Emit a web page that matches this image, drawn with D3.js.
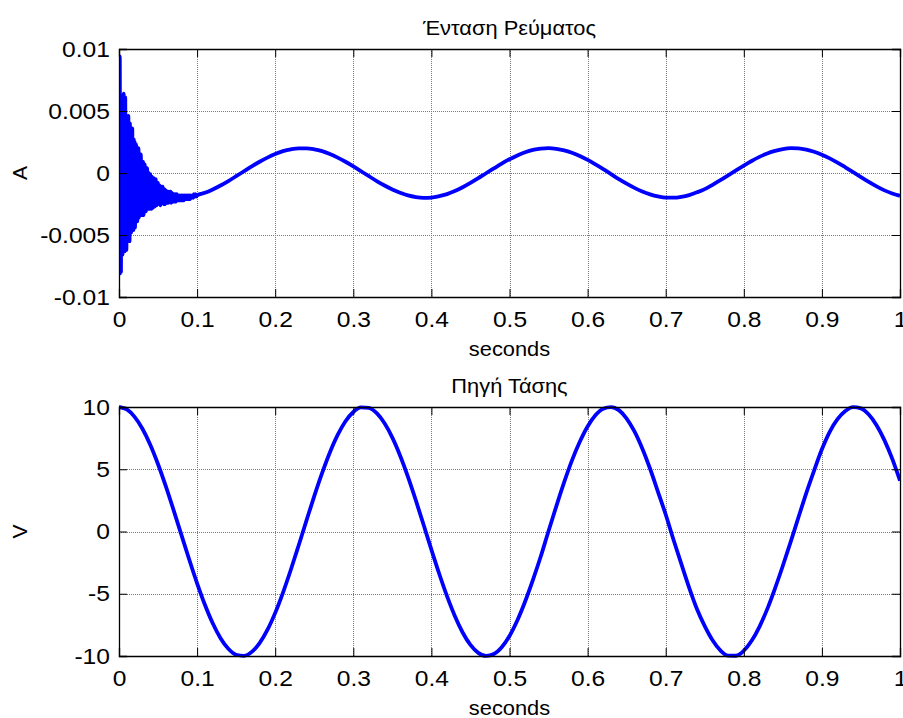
<!DOCTYPE html>
<html>
<head>
<meta charset="utf-8">
<script src="https://cdn.jsdelivr.net/npm/d3@7"></script>
<style>
  html, body { margin: 0; padding: 0; background: #fff; }
  svg { display: block; }
  text { font-family: "Liberation Sans", Arial, sans-serif; fill: #000; }
</style>
</head>
<body>
<svg id="chart" width="903" height="718"></svg>
<script>
// ---------------- DATA ----------------
const xTickValues = [0, 0.1, 0.2, 0.3, 0.4, 0.5, 0.6, 0.7, 0.8, 0.9, 1];
const xTickLabels = ["0", "0.1", "0.2", "0.3", "0.4", "0.5", "0.6", "0.7", "0.8", "0.9", "1"];

const currentTickValues = [-0.01, -0.005, 0, 0.005, 0.01];
const currentTickLabels = ["-0.01", "-0.005", "0", "0.005", "0.01"];
const voltageTickValues = [-10, -5, 0, 5, 10];
const voltageTickLabels = ["-10", "-5", "0", "5", "10"];

const titles = ["Ένταση Ρεύματος", "Πηγή Τάσης"];
const yLabels = ["A", "V"];
const xLabel = "seconds";

// Current (A): transient, sampled every 0.0005 s from 0 to 0.05 s
const currentTransient1 = [
  0.0000, -0.0073, 0.0094, -0.0081, 0.0058, -0.0080, 0.0060, -0.0057, 0.0059, -0.0066,
  0.0053, -0.0060, 0.0064, -0.0062, 0.0044, -0.0063, 0.0061, -0.0054, 0.0043, -0.0062,
  0.0043, -0.0053, 0.0043, -0.0043, 0.0046, -0.0052, 0.0031, -0.0055, 0.0040, -0.0044,
  0.0029, -0.0048, 0.0031, -0.0040, 0.0036, -0.0045, 0.0021, -0.0046, 0.0027, -0.0036,
  0.0025, -0.0044, 0.0020, -0.0036, 0.0023, -0.0037, 0.0015, -0.0039, 0.0017, -0.0034,
  0.0020, -0.0036, 0.0010, -0.0034, 0.0014, -0.0031, 0.0015, -0.0034, 0.0008, -0.0034,
  0.0008, -0.0030, 0.0009, -0.0034, 0.0005, -0.0030, 0.0007, -0.0029, 0.0002, -0.0031,
  0.0004, -0.0028, 0.0004, -0.0029, -0.0002, -0.0029, 0.0000, -0.0029, -0.0001, -0.0026,
  -0.0001, -0.0028, -0.0004, -0.0029, -0.0003, -0.0026, -0.0005, -0.0028, -0.0004, -0.0026,
  -0.0008, -0.0027, -0.0006, -0.0025, -0.0005, -0.0026, -0.0009, -0.0026, -0.0008, -0.0025,
  -0.0008
];
// Current (A): settling, sampled every 0.001 s from 0.051 to 0.1 s
const currentTransient2 = [
  -0.0025, -0.0010, -0.0026, -0.0011, -0.0024, -0.0011, -0.0025, -0.0013, -0.0025, -0.0014,
  -0.0024, -0.0015, -0.0024, -0.0015, -0.0023, -0.0015, -0.0024, -0.0016, -0.0023, -0.0017,
  -0.0023, -0.0017, -0.0023, -0.0017, -0.0022, -0.0018, -0.0022, -0.0018, -0.0022, -0.0018,
  -0.0022, -0.0018, -0.0022, -0.0018, -0.0021, -0.0018, -0.0021, -0.0018, -0.0021, -0.0018,
  -0.0021, -0.0018, -0.0020, -0.0018, -0.0020, -0.0017, -0.0019, -0.0017, -0.0019, -0.0018
];
// Current (A): steady state, sampled every 0.01 s from 0.11 to 1.0 s
const currentSteady = [
  -0.00160, -0.00133, -0.00101, -0.00065, -0.00026, 0.00014, 0.00054, 0.00091, 0.00124, 0.00153,
  0.00176, 0.00191, 0.00199, 0.00199, 0.00191, 0.00176, 0.00153, 0.00124, 0.00091, 0.00054,
  0.00014, -0.00026, -0.00065, -0.00101, -0.00133, -0.00160, -0.00181, -0.00194, -0.00200, -0.00198,
  -0.00187, -0.00170, -0.00145, -0.00115, -0.00080, -0.00042, -0.00002, 0.00037, 0.00076, 0.00111,
  0.00142, 0.00167, 0.00186, 0.00197, 0.00200, 0.00195, 0.00183, 0.00163, 0.00137, 0.00106,
  0.00069, 0.00031, -0.00009, -0.00049, -0.00086, -0.00120, -0.00149, -0.00172, -0.00189, -0.00199,
  -0.00199, -0.00192, -0.00178, -0.00156, -0.00130, -0.00095, -0.00058, -0.00019, 0.00021, 0.00060,
  0.00097, 0.00130, 0.00158, 0.00178, 0.00193, 0.00200, 0.00198, 0.00188, 0.00171, 0.00147,
  0.00118, 0.00084, 0.00046, 0.00007, -0.00033, -0.00072, -0.00108, -0.00140, -0.00165, -0.00184
];

// Voltage (V): sampled every 0.01 s from 0 to 1.0 s
const voltageValues = [
  10.000, 9.801, 9.211, 8.253, 6.967, 5.403, 3.624, 1.700, -0.292, -2.272,
  -4.161, -5.885, -7.374, -8.569, -9.422, -9.900, -9.983, -9.668, -8.968, -7.910,
  -6.536, -4.903, -3.073, -1.122, 0.875, 2.837, 4.685, 6.347, 7.756, 8.855,
  9.602, 9.965, 9.932, 9.502, 8.694, 7.539, 6.084, 4.385, 2.513, 0.540,
  -1.455, -3.392, -5.193, -6.787, -8.111, -9.111, -9.748, -9.997, -9.846, -9.304,
  -8.391, -7.148, -5.625, -3.887, -2.009, 0.044, 2.041, 3.965, 5.713, 7.209,
  8.439, 9.336, 9.868, 9.997, 9.747, 9.074, 8.038, 6.669, 5.040, 3.212,
  1.367, -0.664, -2.601, -4.499, -6.219, -7.597, -8.733, -9.548, -9.970, -9.978,
  -9.577, -8.782, -7.654, -6.237, -4.565, -2.752, -0.835, 1.142, 3.088, 4.893,
  6.603, 8.011, 9.019, 9.673, 9.985, 9.887, 9.398, 8.540, 7.343, 5.853,
  4.081
];

// sampling grids (time instants, seconds)
const currentData = [
  ...currentTransient1.map((v, i) => ({ t: i * 0.0005, v })),
  ...currentTransient2.map((v, i) => ({ t: 0.051 + i * 0.001, v })),
  ...currentSteady.map((v, i) => ({ t: 0.11 + i * 0.01, v }))
];
const voltageData = voltageValues.map((v, i) => ({ t: i * 0.01, v }));

// ---------------- LAYOUT ----------------
const svg = d3.select("#chart");
svg.append("rect").attr("width", 903).attr("height", 718).attr("fill", "#fff");

const left = 119, right = 900;
const panels = [
  { top: 49, bottom: 297, data: currentData, yTicks: currentTickValues, yLabelsT: currentTickLabels,
    domain: [-0.01, 0.01], title: titles[0], ylabel: yLabels[0] },
  { top: 407, bottom: 656, data: voltageData, yTicks: voltageTickValues, yLabelsT: voltageTickLabels,
    domain: [-10, 10], title: titles[1], ylabel: yLabels[1] }
];

const FS_TICK = 22;
const SX_TICK = 1.12;
const FS_LABEL = 21;
const SX_LABEL = 1.04;
const tickLen = 8;

panels.forEach((p, idx) => {
  const x = d3.scaleLinear().domain([0, 1]).range([left, right]);
  const y = d3.scaleLinear().domain(p.domain).range([p.bottom, p.top]);
  const g = svg.append("g");

  // grid
  g.append("g").selectAll("line").data(xTickValues.slice(1, -1)).join("line")
    .attr("x1", d => Math.round(x(d)) + 0.5).attr("x2", d => Math.round(x(d)) + 0.5)
    .attr("y1", p.top).attr("y2", p.bottom)
    .attr("stroke", "#7a7a7a").attr("stroke-width", 1).attr("stroke-dasharray", "1,1");
  g.append("g").selectAll("line").data(p.yTicks.slice(1, -1)).join("line")
    .attr("y1", d => Math.round(y(d)) + 0.5).attr("y2", d => Math.round(y(d)) + 0.5)
    .attr("x1", left).attr("x2", right)
    .attr("stroke", "#7a7a7a").attr("stroke-width", 1).attr("stroke-dasharray", "1,1");

  // clip
  const clipId = "clip" + idx;
  svg.append("clipPath").attr("id", clipId).append("rect")
    .attr("x", left).attr("y", p.top - 2).attr("width", right - left).attr("height", p.bottom - p.top + 4);

  // line
  const line = d3.line().x(d => x(d.t)).y(d => y(d.v)).curve(d3.curveMonotoneX);
  g.append("path").datum(p.data).attr("d", line)
    .attr("fill", "none").attr("stroke", "#0000ff").attr("stroke-width", 3.8)
    .attr("stroke-linejoin", "round").attr("clip-path", `url(#${clipId})`);

  // axes (inward ticks, all four sides)
  const xb = d3.axisBottom(x).tickValues(xTickValues).tickSize(-tickLen).tickFormat((d, i) => xTickLabels[i]).tickPadding(14);
  const xt = d3.axisTop(x).tickValues(xTickValues).tickSize(-tickLen).tickFormat("");
  const yl = d3.axisLeft(y).tickValues(p.yTicks).tickSize(-tickLen).tickFormat((d, i) => p.yLabelsT[i]).tickPadding(9);
  const yr = d3.axisRight(y).tickValues(p.yTicks).tickSize(-tickLen).tickFormat("");

  const ax = [
    g.append("g").attr("transform", `translate(0,${p.bottom})`).call(xb),
    g.append("g").attr("transform", `translate(0,${p.top})`).call(xt),
    g.append("g").attr("transform", `translate(${left},0)`).call(yl),
    g.append("g").attr("transform", `translate(${right},0)`).call(yr)
  ];
  ax.forEach(a => {
    a.select(".domain").attr("stroke", "#000").attr("stroke-width", 1.3);
    a.selectAll(".tick line").attr("stroke", "#000").attr("stroke-width", 1);
    a.selectAll("text").attr("font-size", FS_TICK).attr("font-family", "Liberation Sans, Arial, sans-serif").attr("fill", "#000");
  });
  // horizontally widen tick labels like the reference
  ax[0].selectAll(".tick text").attr("transform", `scale(${SX_TICK},1)`);
  ax[2].selectAll(".tick text").attr("x", 0).attr("transform", `translate(-9,0) scale(${SX_TICK},1)`);

  // title
  g.append("text").attr("transform", `translate(${(left + right) / 2},${p.top - 14}) scale(${SX_LABEL},1)`)
    .attr("text-anchor", "middle").attr("font-size", FS_LABEL).text(p.title);
  // x label
  g.append("text").attr("transform", `translate(${(left + right) / 2},${p.bottom + 59}) scale(${SX_LABEL},1)`)
    .attr("text-anchor", "middle").attr("font-size", FS_LABEL).text(xLabel);
  // y label
  g.append("text").attr("transform", `translate(27,${(p.top + p.bottom) / 2}) rotate(-90)`)
    .attr("text-anchor", "middle").attr("font-size", FS_LABEL).text(p.ylabel);
});
</script>
</body>
</html>
